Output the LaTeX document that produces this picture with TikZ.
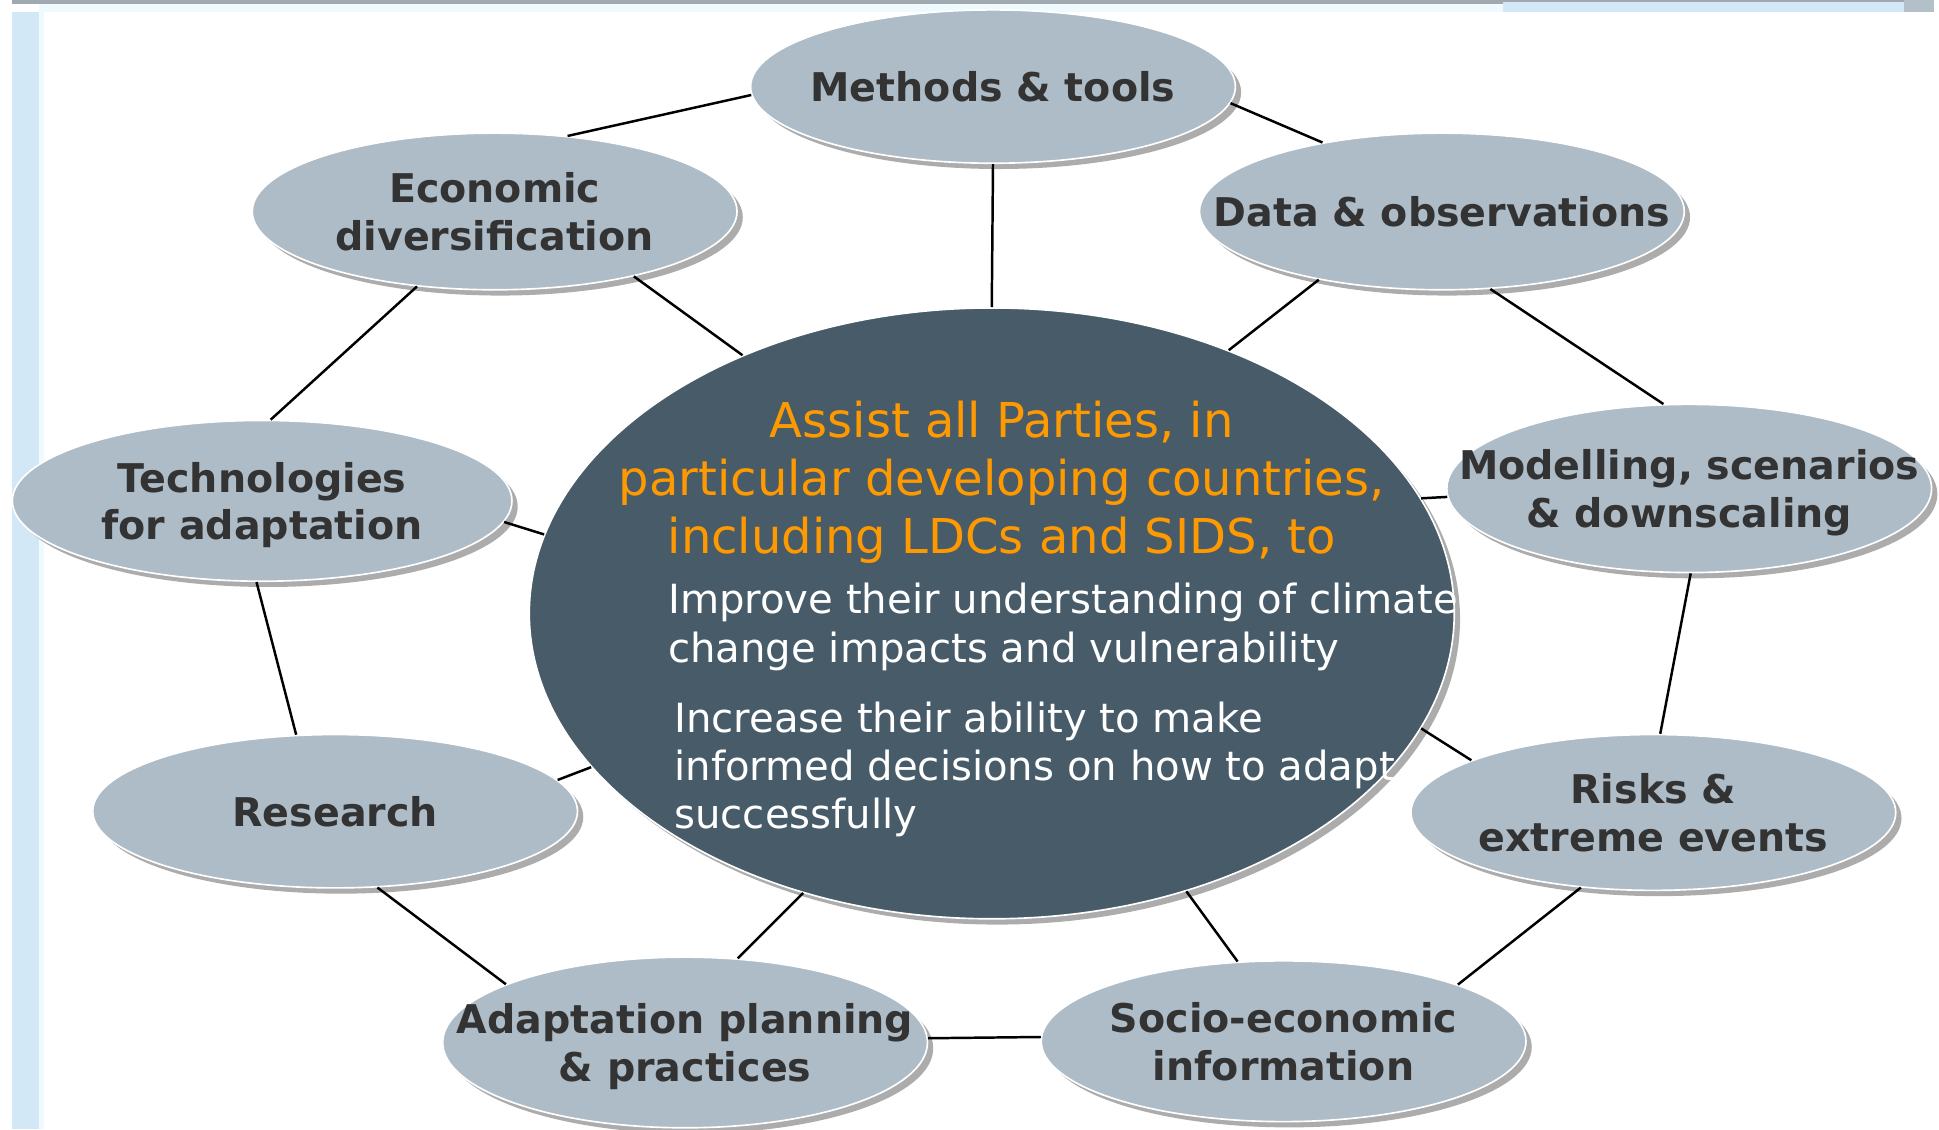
\documentclass[tikz,border=0pt]{standalone}
\usepackage{fontspec}
\setmainfont{DejaVu Sans}
\usetikzlibrary{shapes.geometric,shadows}

\definecolor{topicfill}{RGB}{173,188,199}
\definecolor{hubfill}{RGB}{71,91,105}
\definecolor{titleorange}{RGB}{255,153,0}
\definecolor{darktext}{RGB}{51,51,51}
\definecolor{stripblue}{RGB}{210,232,246}
\definecolor{stripcyan}{RGB}{238,250,254}
\definecolor{stripgrey}{RGB}{180,192,200}
\definecolor{rulegrey}{RGB}{160,168,176}
\definecolor{shadowgrey}{RGB}{172,172,172}

\begin{document}
\begin{tikzpicture}[x=0.6pt,y=-0.6pt,
  topic/.style={ellipse,fill=topicfill,draw=white,line width=0.8pt,inner sep=0pt,
    minimum width=235.2pt,minimum height=76pt,
    drop shadow={shadow xshift=2.8pt,shadow yshift=-2.8pt,fill=shadowgrey,opacity=1}},
  topictext/.style={text=darktext,font=\bfseries\fontsize{19.2}{23.1}\selectfont,align=center,inner sep=0pt,text depth=0pt},
  hub/.style={topic,fill=hubfill},
  hubtitle/.style={text=titleorange,font=\fontsize{23.3}{28.2}\selectfont,align=center,inner sep=0pt},
  hubtext/.style={text=white,font=\fontsize{19.5}{23.4}\selectfont,align=left,inner sep=0pt,anchor=west},
  link/.style={line width=1.2pt,black}]
\useasboundingbox (0,0) rectangle (1568,913);
\fill[stripblue] (9.7,10) rectangle (31.5,913);
\fill[stripcyan] (31.5,10) rectangle (35.5,913);
\fill[stripcyan] (31.5,3) rectangle (1215,10);
\fill[rulegrey] (9.7,0) rectangle (1215,3);
\fill[stripblue] (1215,0) rectangle (1540,10);
\fill[rulegrey] (1215,0) rectangle (1540,2);
\fill[stripgrey] (1540,0) rectangle (1564,10);

\node[hub,minimum width=448.8pt,minimum height=296.4pt] (hub) at (802,496) {};
\node[hubtitle] (assist) at (810,390) {Assist all Parties, in\\particular developing countries,\\including LDCs and SIDS, to};
\node[hubtext] (improve) at (540,507) {Improve their understanding of climate\\change impacts and vulnerability};
\node[hubtext] (increase) at (545,622) {Increase their ability to make\\informed decisions on how to adapt\\successfully};

\node[topic,minimum height=74.4pt,label={[topictext]center:{Methods \& tools}}] (methods) at (803,70) {};
\node[topic,label={[topictext]center:{Economic\\diversification}}] (econ) at (400,171) {};
\node[topic,label={[topictext]center:{Data \& observations}}] (data) at (1166,171) {};
\node[topic,minimum width=242.4pt,minimum height=78pt,label={[topictext]center:{Technologies\\for adaptation}}] (tech) at (212,405) {};
\node[topic,minimum height=81.6pt,label={[topictext]center:{Modelling, scenarios\\\& downscaling}}] (model) at (1366,395) {};
\node[topic,minimum height=74.4pt,label={[topictext]center:{Research}}] (research) at (271,656) {};
\node[topic,minimum height=75.6pt,label={[topictext]center:{Risks \&\\extreme events}}] (risks) at (1337,657) {};
\node[topic,minimum height=82.8pt,label={[topictext]center:{Adaptation planning\\\& practices}}] (adapt) at (554,843) {};
\node[topic,minimum height=78pt,label={[topictext]center:{Socio-economic\\information}}] (socio) at (1038,842) {};

\path[link]
  (methods.182) edge (econ.46)
  (methods.356) edge (data.150)
  (methods.south) edge (hub.north)
  (econ.335) edge (hub.134)
  (econ.224) edge (tech.84)
  (data.209) edge (hub.48)
  (data.302) edge (model.107)
  (model.182) edge (hub.15)
  (model.271) edge (risks.85)
  (tech.355) edge (hub.170)
  (tech.266) edge (research.117)
  (research.8) edge (hub.201)
  (research.299) edge (adapt.162)
  (risks.164) edge (hub.345)
  (risks.226) edge (socio.18)
  (adapt.58) edge (hub.236)
  (adapt.1) edge (socio.179)
  (socio.120) edge (hub.305);
\end{tikzpicture}
\end{document}
